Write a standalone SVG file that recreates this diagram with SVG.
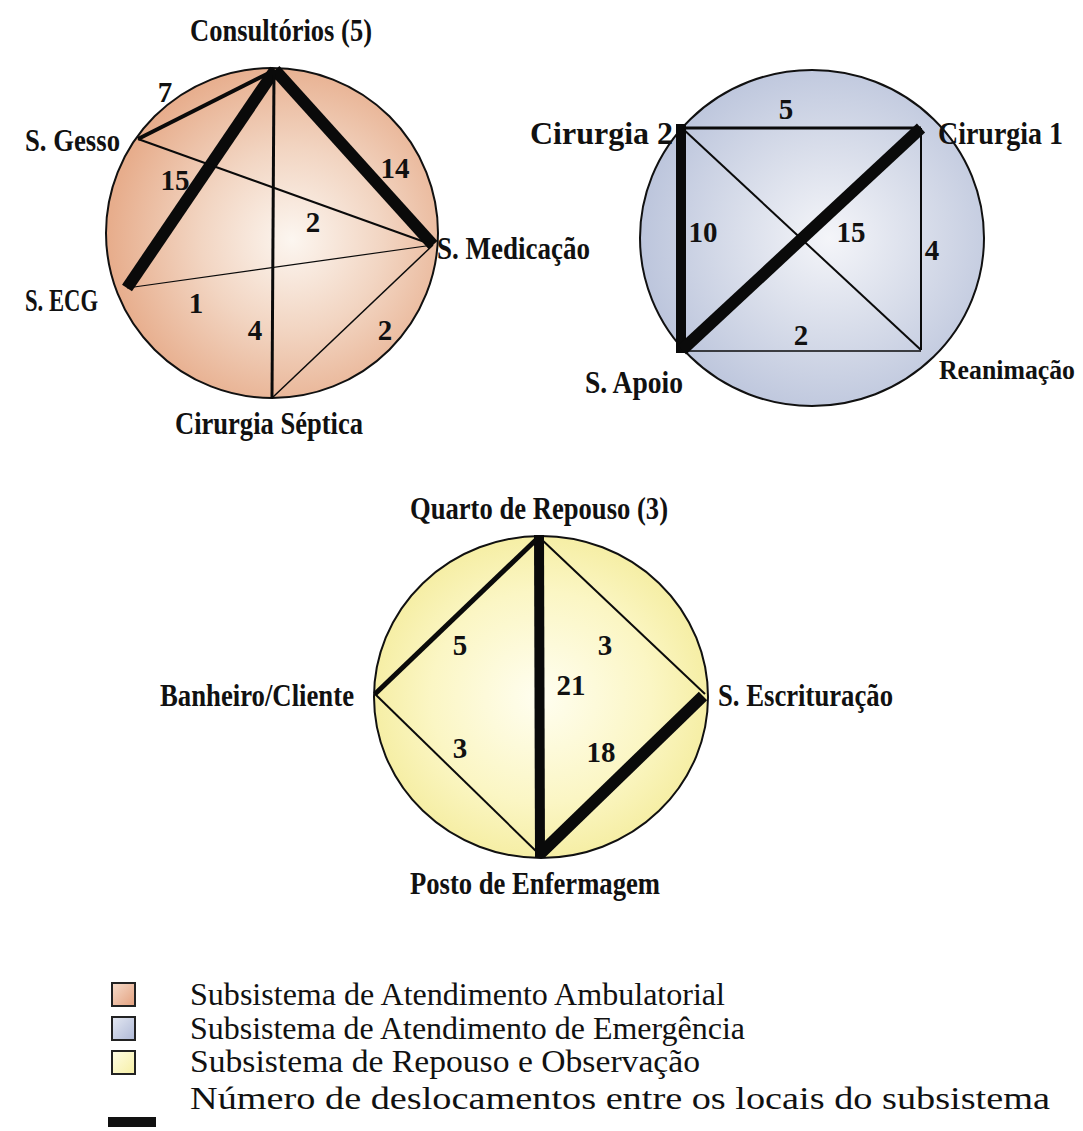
<svg xmlns="http://www.w3.org/2000/svg" width="1083" height="1131" viewBox="0 0 1083 1131">
<defs>
<radialGradient id="gPeach" cx="0.56" cy="0.52" r="0.55">
<stop offset="0" stop-color="#FCF6F0"/>
<stop offset="0.5" stop-color="#F2D5C2"/>
<stop offset="1" stop-color="#E7AD8C"/>
</radialGradient>
<radialGradient id="gBlue" cx="0.55" cy="0.5" r="0.55">
<stop offset="0" stop-color="#F4F5F9"/>
<stop offset="0.5" stop-color="#D8DDEA"/>
<stop offset="1" stop-color="#BCC5DC"/>
</radialGradient>
<radialGradient id="gYellow" cx="0.5" cy="0.5" r="0.55">
<stop offset="0" stop-color="#FFFEF0"/>
<stop offset="0.6" stop-color="#FBF6C4"/>
<stop offset="1" stop-color="#F4EC9C"/>
</radialGradient>
<linearGradient id="lgPeach" x1="0" y1="0" x2="1" y2="1">
<stop offset="0" stop-color="#F6DCCB"/><stop offset="1" stop-color="#E3A07E"/>
</linearGradient>
<linearGradient id="lgBlue" x1="0" y1="0" x2="1" y2="1">
<stop offset="0" stop-color="#E4E8F2"/><stop offset="1" stop-color="#AEB8D6"/>
</linearGradient>
<linearGradient id="lgYellow" x1="0" y1="0" x2="1" y2="1">
<stop offset="0" stop-color="#FFFDE6"/><stop offset="1" stop-color="#F6EFA4"/>
</linearGradient>
</defs>
<style>
.ring{stroke:#111;stroke-width:2}
.e{stroke:#0a0a0a;fill:none;stroke-linecap:butt}
.lbl{font-family:"Liberation Serif","Times New Roman",serif;font-weight:bold;font-size:31px;fill:#111}
.num{font-family:"Liberation Serif","Times New Roman",serif;font-weight:bold;font-size:29px;fill:#111;text-anchor:middle}
.leg{font-family:"Liberation Serif","Times New Roman",serif;font-size:32px;fill:#111}
.box{stroke:#222;stroke-width:2}
</style>
<rect width="1083" height="1131" fill="#FFFFFF"/>

<!-- Subsystem 1: Ambulatorial -->
<g id="sub-ambulatorial">
<ellipse class="ring" cx="272" cy="233" rx="166" ry="165" fill="url(#gPeach)"/>
</g>
<!-- Subsystem 2: Emergencia -->
<g id="sub-emergencia">
<ellipse class="ring" cx="812" cy="238" rx="172" ry="168" fill="url(#gBlue)"/>
</g>
<!-- Subsystem 3: Repouso -->
<g id="sub-repouso">
<ellipse class="ring" cx="541" cy="697" rx="167" ry="161" fill="url(#gYellow)"/>
</g>

<g id="connectors">
<!-- ambulatorial -->
<line class="e" x1="275" y1="70" x2="138" y2="139" stroke-width="4"/>
<line class="e" x1="275" y1="70" x2="127" y2="288" stroke-width="12"/>
<line class="e" x1="275" y1="70" x2="433" y2="245" stroke-width="12"/>
<line class="e" x1="274" y1="70" x2="272" y2="398" stroke-width="3"/>
<line class="e" x1="138" y1="139" x2="433" y2="245" stroke-width="2"/>
<line class="e" x1="127" y1="288" x2="433" y2="245" stroke-width="1.2"/>
<line class="e" x1="433" y1="245" x2="272" y2="398" stroke-width="1.5"/>
<!-- emergencia -->
<line class="e" x1="680" y1="128" x2="921" y2="128" stroke-width="3"/>
<line class="e" x1="681" y1="124" x2="681" y2="353" stroke-width="10"/>
<line class="e" x1="921" y1="128" x2="682" y2="350" stroke-width="12"/>
<line class="e" x1="921" y1="128" x2="921" y2="350" stroke-width="2"/>
<line class="e" x1="682" y1="128" x2="921" y2="350" stroke-width="2"/>
<line class="e" x1="682" y1="351" x2="921" y2="351" stroke-width="1.5"/>
<!-- repouso -->
<line class="e" x1="539" y1="535" x2="540" y2="858" stroke-width="10"/>
<line class="e" x1="539" y1="537" x2="375" y2="694" stroke-width="5"/>
<line class="e" x1="539" y1="537" x2="705" y2="694" stroke-width="2"/>
<line class="e" x1="375" y1="694" x2="540" y2="855" stroke-width="2"/>
<line class="e" x1="703" y1="696" x2="541" y2="853" stroke-width="12"/>
</g>

<!-- nodes: ambulatorial -->
<g id="n-consultorios"><text class="lbl" x="190" y="41" textLength="182" lengthAdjust="spacingAndGlyphs">Consultórios (5)</text></g>
<g id="n-gesso"><text class="lbl" x="25" y="151" textLength="95" lengthAdjust="spacingAndGlyphs">S. Gesso</text></g>
<g id="n-medicacao"><text class="lbl" x="437" y="259" textLength="153" lengthAdjust="spacingAndGlyphs">S. Medicação</text></g>
<g id="n-ecg"><text class="lbl" x="25" y="311" textLength="73" lengthAdjust="spacingAndGlyphs">S. ECG</text></g>
<g id="n-septica"><text class="lbl" x="175" y="434" textLength="188" lengthAdjust="spacingAndGlyphs">Cirurgia Séptica</text></g>
<!-- nodes: emergencia -->
<g id="n-cirurgia2"><text class="lbl" x="530" y="144" textLength="143" lengthAdjust="spacingAndGlyphs">Cirurgia 2</text></g>
<g id="n-cirurgia1"><text class="lbl" x="938" y="144" textLength="125" lengthAdjust="spacingAndGlyphs">Cirurgia 1</text></g>
<g id="n-reanimacao"><text class="lbl" x="939" y="379" textLength="136" lengthAdjust="spacingAndGlyphs" style="font-size:27px">Reanimação</text></g>
<g id="n-apoio"><text class="lbl" x="585" y="393" textLength="98" lengthAdjust="spacingAndGlyphs">S. Apoio</text></g>
<!-- nodes: repouso -->
<g id="n-quarto"><text class="lbl" x="410" y="519" textLength="258" lengthAdjust="spacingAndGlyphs">Quarto de Repouso (3)</text></g>
<g id="n-banheiro"><text class="lbl" x="160" y="706" textLength="194" lengthAdjust="spacingAndGlyphs">Banheiro/Cliente</text></g>
<g id="n-escrituracao"><text class="lbl" x="718" y="706" textLength="175" lengthAdjust="spacingAndGlyphs">S. Escrituração</text></g>
<g id="n-posto"><text class="lbl" x="410" y="894" textLength="250" lengthAdjust="spacingAndGlyphs">Posto de Enfermagem</text></g>

<!-- edge labels -->
<g id="edge-labels">
<text class="num" x="165" y="102">7</text>
<text class="num" x="175" y="190">15</text>
<text class="num" x="395" y="178">14</text>
<text class="num" x="313" y="232">2</text>
<text class="num" x="196" y="313">1</text>
<text class="num" x="255" y="340">4</text>
<text class="num" x="385" y="340">2</text>
<text class="num" x="786" y="119">5</text>
<text class="num" x="703" y="242">10</text>
<text class="num" x="851" y="242">15</text>
<text class="num" x="932" y="260">4</text>
<text class="num" x="801" y="345">2</text>
<text class="num" x="460" y="655">5</text>
<text class="num" x="605" y="655">3</text>
<text class="num" x="571" y="695">21</text>
<text class="num" x="460" y="758">3</text>
<text class="num" x="601" y="762">18</text>
</g>

<!-- legend -->
<g id="legend">
<rect class="box" x="112" y="983" width="23" height="23" fill="url(#lgPeach)"/>
<rect class="box" x="112" y="1017" width="23" height="23" fill="url(#lgBlue)"/>
<rect class="box" x="112" y="1051" width="23" height="23" fill="url(#lgYellow)"/>
<rect x="108" y="1117" width="48" height="10" fill="#111"/>
<text class="leg" x="190" y="1005" textLength="535" lengthAdjust="spacingAndGlyphs">Subsistema de Atendimento Ambulatorial</text>
<text class="leg" x="190" y="1039" textLength="555" lengthAdjust="spacingAndGlyphs">Subsistema de Atendimento de Emergência</text>
<text class="leg" x="190" y="1072" textLength="510" lengthAdjust="spacingAndGlyphs">Subsistema de Repouso e Observação</text>
<text class="leg" x="190" y="1109" textLength="860" lengthAdjust="spacingAndGlyphs">Número de deslocamentos entre os locais do subsistema</text>
</g>
</svg>
